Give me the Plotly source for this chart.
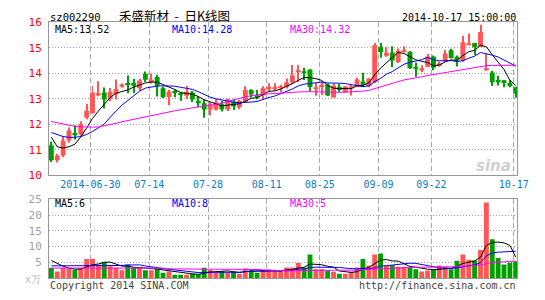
import numpy as np
import pandas as pd
import plotly.graph_objects as go

# ---------------- data ----------------
opens = [11.18, 10.59, 10.78, 11.37, 11.66, 11.60, 12.27, 12.43, 13.15, 13.25,
         13.00, 13.18, 13.47, 13.62, 13.62, 13.41, 13.98, 13.66, 13.85, 13.41,
         13.07, 13.31, 13.23, 13.12, 13.25, 12.92, 12.83, 12.58, 12.58, 12.79,
         12.58, 12.88, 12.67, 12.88, 13.34, 13.13, 13.13, 13.41, 13.41, 13.44,
         13.46, 13.64, 14.06, 14.06, 14.15, 13.40, 13.46, 13.55, 13.05, 13.46,
         13.26, 13.44, 13.46, 13.68, 13.49, 13.65, 15.02, 14.69, 14.81, 14.44,
         14.85, 14.83, 14.26, 14.11, 14.26, 14.66, 14.29, 14.50, 14.90, 14.65,
         14.50, 15.12, 15.19, 15.03, 14.13, 14.03, 13.74, 13.73, 13.62, 13.45]
highs = [11.33, 10.84, 11.53, 11.87, 11.96, 12.12, 12.81, 13.50, 13.69, 13.44,
         13.42, 13.76, 13.60, 13.91, 13.79, 13.79, 14.07, 13.98, 13.94, 13.47,
         13.35, 13.36, 13.28, 13.50, 13.31, 13.11, 12.98, 12.86, 12.98, 12.92,
         13.00, 12.98, 12.95, 13.49, 13.37, 13.34, 13.49, 13.61, 13.61, 13.55,
         13.80, 14.32, 14.32, 14.22, 14.15, 13.62, 13.68, 13.60, 13.60, 13.58,
         13.50, 13.55, 13.82, 14.02, 13.80, 15.19, 15.19, 15.02, 15.06, 14.97,
         15.06, 14.87, 14.42, 14.31, 14.76, 14.70, 14.46, 14.92, 14.96, 14.70,
         15.47, 15.56, 15.19, 15.90, 14.76, 14.10, 13.90, 13.74, 13.74, 13.47]
lows = [10.52, 10.50, 10.71, 11.28, 11.40, 11.55, 12.20, 12.40, 13.10, 12.62,
        12.90, 12.97, 13.43, 13.22, 13.22, 13.31, 13.66, 13.60, 13.09, 13.03,
        12.75, 13.06, 12.92, 12.98, 12.87, 12.67, 12.26, 12.35, 12.54, 12.50,
        12.52, 12.56, 12.60, 12.85, 13.04, 12.98, 12.98, 13.30, 13.30, 13.26,
        13.40, 13.58, 13.66, 13.74, 13.30, 13.12, 13.15, 13.11, 13.05, 13.27,
        13.24, 13.13, 13.45, 13.46, 13.45, 13.62, 14.61, 14.65, 14.24, 14.40,
        14.82, 14.17, 13.86, 14.05, 14.24, 14.12, 14.26, 14.45, 14.58, 14.27,
        14.45, 15.10, 14.72, 15.03, 14.10, 13.50, 13.52, 13.45, 13.45, 13.04]
closes = [10.59, 10.78, 11.37, 11.76, 11.60, 12.00, 12.53, 13.25, 13.21, 12.97,
          13.28, 13.38, 13.56, 13.56, 13.51, 13.72, 13.75, 13.75, 13.51, 13.06,
          13.28, 13.23, 13.14, 13.28, 12.97, 12.83, 12.58, 12.76, 12.86, 12.58,
          12.98, 12.70, 12.92, 13.34, 13.17, 13.07, 13.41, 13.46, 13.45, 13.49,
          13.64, 13.91, 14.12, 14.01, 13.46, 13.45, 13.55, 13.13, 13.51, 13.34,
          13.49, 13.49, 13.76, 13.55, 13.80, 15.10, 14.82, 14.80, 14.50, 14.88,
          14.88, 14.20, 14.18, 14.20, 14.66, 14.22, 14.38, 14.78, 14.60, 14.50,
          15.22, 15.14, 15.02, 15.62, 14.20, 13.65, 13.65, 13.62, 13.50, 13.20]
volumes = [3.2, 2.1, 3.3, 3.0, 2.7, 3.3, 6.1, 6.1, 4.3, 5.2,
           3.8, 3.3, 2.5, 4.3, 3.3, 3.3, 2.5, 2.5, 3.0, 1.7,
           2.1, 1.1, 1.1, 1.1, 1.4, 1.3, 3.3, 2.6, 1.7, 2.2,
           1.7, 2.0, 1.4, 3.1, 2.6, 1.7, 2.6, 2.6, 2.2, 2.2,
           3.4, 3.4, 4.8, 3.4, 7.5, 2.8, 2.8, 2.4, 2.0, 1.4,
           1.4, 2.0, 3.4, 6.1, 4.0, 7.5, 7.8, 4.0, 4.1, 3.6,
           3.6, 3.3, 2.8, 2.1, 2.4, 2.8, 4.0, 3.6, 2.8, 5.5,
           7.5, 5.8, 5.6, 8.9, 24.0, 12.3, 6.4, 4.3, 4.9, 5.4]

# moving-average values before enough visible history exists
ma5_head = [11.50, 11.12, 11.07, 11.12]
ma10_head = [11.68, 11.60, 11.52, 11.49, 11.49, 11.52, 11.60, 11.72, 11.85]
ma30_head = [12.11, 12.06, 12.01, 11.96, 11.92, 11.90, 11.89, 11.89, 11.90, 11.94,
             11.98, 12.04, 12.10, 12.15, 12.20, 12.26, 12.31, 12.36, 12.40, 12.45,
             12.49, 12.53, 12.57, 12.60, 12.64, 12.68, 12.72, 12.76, 12.79]
vma5_head = [5.6, 4.6, 3.8, 3.2]
vma10_head = [3.9, 3.9, 3.9, 3.9, 3.9, 4.0, 4.1, 4.1, 4.0]
vma30_head = [3.2] * 20 + [2.95] * 9

tick_days = [7, 17, 27, 37, 46, 56, 65, 79]
tick_labels = ["2014-06-30", "07-14", "07-28", "08-11", "08-25", "09-09", "09-22", "10-17"]
price_ticks = [10, 11, 12, 13, 14, 15, 16]
vol_ticks = [5, 10, 15, 20, 25]

# ---------------- styling ----------------
W, H = 545, 300
RED, GREEN = "#FF5555", "#009F00"
MONO = "DejaVu Sans Mono"


def fx(p):
    return p / W


def fy(p):
    return 1 - p / H


o = np.array(opens)
h = np.array(highs)
l = np.array(lows)
c = np.array(closes)
v = np.array(volumes)
n = len(c)
idx = np.arange(n)
colors = np.where(c > o, RED, GREEN)


def ma(series, win, head):
    m = pd.Series(series).rolling(win).mean().to_numpy()
    m[:len(head)] = head
    return m


ma5, ma10, ma30 = ma(c, 5, ma5_head), ma(c, 10, ma10_head), ma(c, 30, ma30_head)
vma5, vma10, vma30 = ma(v, 5, vma5_head), ma(v, 10, vma10_head), ma(v, 30, vma30_head)

fig = go.Figure()
# wicks
fig.add_trace(go.Bar(x=idx, y=h - l, base=l, width=0.17, marker_color=colors,
                     marker_line_width=0, xaxis="x", yaxis="y"))
# bodies
body = np.maximum(np.abs(c - o), 0.03)
fig.add_trace(go.Bar(x=idx, y=body, base=np.minimum(o, c), width=0.83, marker_color=colors,
                     marker_line_width=0, xaxis="x", yaxis="y"))
for m, col in [(ma5, "black"), (ma10, "#0000FF"), (ma30, "#FF00FF")]:
    fig.add_trace(go.Scatter(x=idx, y=m, mode="lines", line=dict(color=col, width=1),
                             xaxis="x", yaxis="y"))
# volume
fig.add_trace(go.Bar(x=idx, y=v, width=0.83, marker_color=colors, marker_line_width=0,
                     xaxis="x2", yaxis="y2"))
for m, col in [(vma5, "black"), (vma10, "#0000FF"), (vma30, "#FF00FF")]:
    fig.add_trace(go.Scatter(x=idx, y=m, mode="lines", line=dict(color=col, width=1),
                             xaxis="x2", yaxis="y2"))

xr = [-0.4, 79.267]
tickpos = [d - 0.35 for d in tick_days]
common_x = dict(domain=[fx(50), fx(528)], range=xr, tickvals=tickpos, ticks="",
                showgrid=True, gridcolor="#AAAAAA", gridwidth=1, griddash="5px,3px",
                showline=True, linecolor="#999999", linewidth=1, mirror=True,
                zeroline=False, fixedrange=True)
common_y = dict(showgrid=True, gridcolor="#A0A0A0", gridwidth=1, griddash="1px,2px",
                showline=True, linecolor="#999999", linewidth=1, mirror=True,
                zeroline=False, ticks="", ticklabelstandoff=4, fixedrange=True)

fig.update_layout(
    width=W, height=H, autosize=False,
    margin=dict(l=0, r=0, t=0, b=0),
    paper_bgcolor="white", plot_bgcolor="white",
    showlegend=False, hovermode=False, barmode="overlay",
    xaxis=dict(**common_x, anchor="y", ticktext=tick_labels,
               tickfont=dict(family=MONO, size=10, color="#0A7CC8")),
    yaxis=dict(**common_y, domain=[fy(177), fy(17)], range=[10, 16], tickvals=price_ticks,
               tickfont=dict(family=MONO, size=11, color="#FF0000")),
    xaxis2=dict(**common_x, anchor="y2", showticklabels=False),
    yaxis2=dict(**common_y, domain=[fy(284.5), fy(202)], range=[0, 25], tickvals=vol_ticks,
                tickfont=dict(family=MONO, size=11, color="#A0A0A0")),
)


def txt(x, y, s, color="black", size=10, family=MONO, xanchor="left", **kw):
    fig.add_annotation(x=fx(x), y=fy(y), xref="paper", yref="paper", text=s, showarrow=False,
                       xanchor=xanchor, yanchor="middle",
                       font=dict(family=family, size=size, color=color), **kw)


txt(49, 11, "sz002290", size=10.5)
txt(119, 9.5, "禾盛新材&nbsp;&nbsp;-&nbsp;&nbsp;日K线图", size=12.5, family="Noto Sans CJK SC")
txt(529, 12, "2014-10-17 15:00:00", xanchor="right", size=10)
txt(54, 25, "MA5:%.2f" % ma5[-1], size=10)
txt(173, 25, "MA10:%.2f" % ma10[-1], color="#0000FF", size=10)
txt(294, 25, "MA30:%.2f" % ma30[-1], color="#FF00FF", size=10)
txt(54, 206, "MA5:%d" % int(vma5[-1]), size=10)
txt(174, 206, "MA10:%d" % int(vma10[-1]), color="#0000FF", size=10)
txt(294, 206, "MA30:%d" % int(vma30[-1]), color="#FF00FF", size=10)
txt(44, 286, "x万", color="#BBBBBB", size=10, xanchor="right")
txt(49, 292, "Copyright 2014 SINA.COM", color="#444444", size=10)
txt(529, 292, "http://finance.sina.com.cn", color="#444444", size=10, xanchor="right")
txt(524, 167, "<b><i>sina</i></b>", color="#D0D0D0", size=15, family="DejaVu Sans",
    xanchor="right")

fig.write_html("out.html")
